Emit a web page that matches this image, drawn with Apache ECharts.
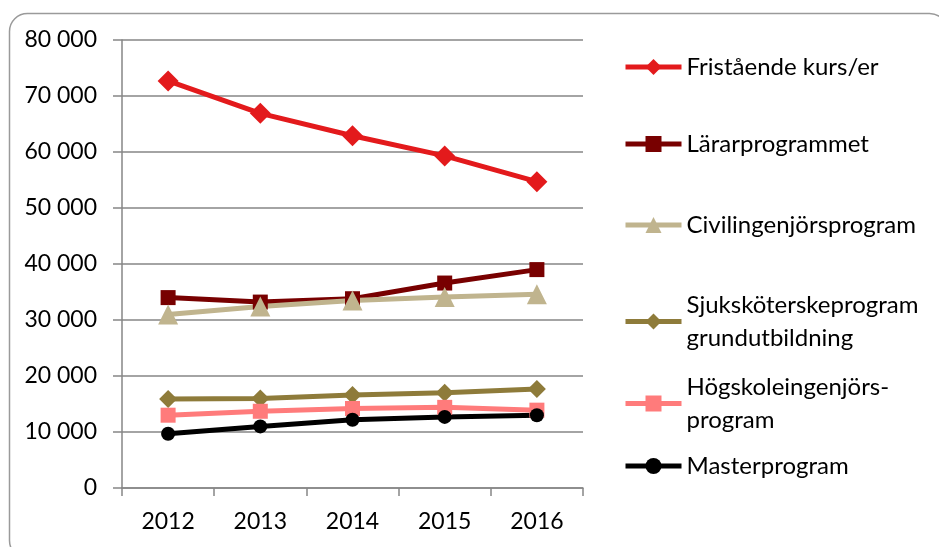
<!DOCTYPE html>
<html>
<head>
<meta charset="utf-8">
<script src="https://cdn.jsdelivr.net/npm/echarts@6/dist/echarts.min.js"></script>
<style>
    html, body {
        margin: 0;
        padding: 0;
        background: #fff;
    }
    #chart {
        width: 939px;
        height: 547px;
    }
</style>
</head>
<body>
<div id="chart"></div>
<script>
// kategorier och värden
let years = ['2012', '2013', '2014', '2015', '2016']
let fristaende = [72700, 66900, 62900, 59300, 54700]
let lararprogrammet = [34000, 33200, 33800, 36600, 39000]
let civilingenjor = [31000, 32400, 33500, 34100, 34600]
let sjukskoterske = [15900, 16000, 16600, 17000, 17700]
let hogskoleingenjor = [13000, 13700, 14200, 14400, 13900]
let master = [9700, 11000, 12200, 12700, 13000]

let names = [
    'Fristående kurs/er',
    'Lärarprogrammet',
    'Civilingenjörsprogram',
    'Sjuksköterskeprogram\ngrundutbildning',
    'Högskoleingenjörs-\nprogram',
    'Masterprogram'
]

let font = 'Lato'
let lineH = 33

function fmt(v) {
    return String(v).replace(/\B(?=(\d{3})+(?!\d))/g, ' ')
}

function makeSeries(name, data, color, symbol, size) {
    return {
        name: name,
        type: 'line',
        data: data,
        symbol: symbol,
        symbolSize: size,
        showSymbol: true,
        lineStyle: { width: 5, color: color },
        itemStyle: { color: color },
        emphasis: { disabled: true },
        animation: false
    }
}

// en legend per rad, så att avstånden blir som i förlagan
function makeLegend(name, firstLineY, twoLines) {
    return {
        orient: 'vertical',
        left: 623,
        top: twoLines ? firstLineY - lineH : firstLineY - lineH / 2,
        padding: 0,
        itemWidth: 56,
        itemHeight: 20,
        itemGap: 0,
        selectedMode: false,
        data: [name],
        lineStyle: { width: 5 },
        textStyle: {
            fontFamily: font,
            fontSize: 24,
            color: '#000',
            lineHeight: lineH,
            padding: twoLines ? [lineH, 0, 0, 0] : 0
        }
    }
}

var myChart = echarts.init(document.getElementById('chart'))
let option = {
    backgroundColor: '#fff',
    animation: false,
    grid: {
        left: 122,
        right: 356,
        top: 40,
        bottom: 59
    },
    legend: [
        makeLegend(names[0], 67, false),
        makeLegend(names[1], 144, false),
        makeLegend(names[2], 225, false),
        makeLegend(names[3], 305, true),
        makeLegend(names[4], 387, true),
        makeLegend(names[5], 466, false)
    ],
    graphic: [
        {
            type: 'rect',
            left: 7,
            top: 11,
            shape: { width: 938, height: 545, r: 18 },
            style: { fill: 'none', stroke: '#9a9a9a', lineWidth: 1.5 },
            silent: true
        }
    ],
    xAxis: {
        type: 'category',
        data: years,
        boundaryGap: true,
        axisLine: { lineStyle: { color: '#868686', width: 1.5 } },
        axisTick: { show: true, length: 8, lineStyle: { color: '#868686', width: 1.5 } },
        axisLabel: { fontFamily: font, fontSize: 23, color: '#000', margin: 22 }
    },
    yAxis: {
        type: 'value',
        min: 0,
        max: 80000,
        interval: 10000,
        axisLine: { show: true, lineStyle: { color: '#868686', width: 1.5 } },
        axisTick: { show: true, length: 9, lineStyle: { color: '#868686', width: 1.5 } },
        splitLine: { lineStyle: { color: '#868686', width: 1.5 } },
        axisLabel: {
            fontFamily: font,
            fontSize: 23,
            color: '#000',
            margin: 25,
            formatter: fmt
        }
    },
    series: [
        makeSeries(names[0], fristaende, '#e31a1c', 'diamond', 21),
        makeSeries(names[1], lararprogrammet, '#780000', 'rect', 15),
        makeSeries(names[2], civilingenjor, '#c0b48e', 'triangle', 20),
        makeSeries(names[3], sjukskoterske, '#8e7b3a', 'diamond', 18),
        makeSeries(names[4], hogskoleingenjor, '#ff7b7b', 'rect', 15),
        makeSeries(names[5], master, '#000000', 'circle', 14)
    ]
}
myChart.setOption(option)
</script>
</body>
</html>
